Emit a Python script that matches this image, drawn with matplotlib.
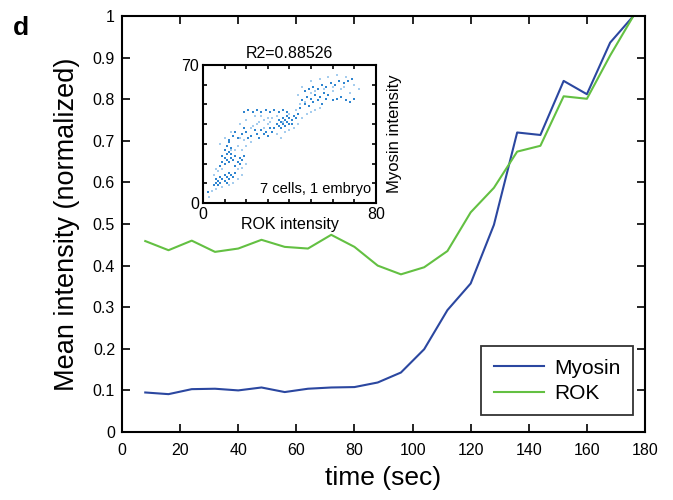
import matplotlib
matplotlib.use("Agg")
import matplotlib.pyplot as plt

plt.rcParams['font.family'] = ['Liberation Sans', 'DejaVu Sans']

# main curves
time_sec = [8, 16, 24, 32, 40, 48, 56, 64, 72, 80, 88, 96, 104, 112, 120, 128, 136, 144, 152, 160, 168, 176]
myosin = [0.095, 0.091, 0.103, 0.104, 0.100, 0.107, 0.096, 0.104, 0.107, 0.108, 0.119, 0.143, 0.199, 0.293,
          0.357, 0.498, 0.720, 0.714, 0.844, 0.812, 0.936, 1.0]
rok = [0.459, 0.437, 0.460, 0.433, 0.441, 0.462, 0.445, 0.441, 0.474, 0.445, 0.400, 0.379, 0.396, 0.435,
       0.528, 0.587, 0.674, 0.688, 0.807, 0.801, 0.905, 1.0]

# inset scatter (ROK intensity vs Myosin intensity), read by eye
rok_dark = [2.5, 5, 6, 7, 8, 9, 10, 11, 12, 13, 14, 15, 6, 8, 10, 12, 7, 11,
            8, 9, 10, 11, 12, 13, 14, 15, 16, 17, 18, 19, 9, 11, 13, 15, 17, 10,
            10, 11, 12, 13, 12,
            12, 14, 16, 18, 20, 22, 24, 15, 19, 21,
            33, 34, 35, 36, 37, 38, 39, 40, 41, 42, 43, 44, 35, 37, 39, 41, 36, 38, 40,
            19, 21, 23, 25, 27, 29, 31, 33, 35, 37, 39,
            26, 28, 30, 32, 27, 29, 31, 25,
            45, 47, 49, 51, 53, 55, 57, 46, 48, 50, 52, 54, 56, 58, 60, 62, 64, 66, 68, 70,
            47, 49, 51, 53, 55, 57, 59, 61, 63, 65, 67, 69]
myo_dark = [5.7, 9, 10, 11, 10, 12, 11, 13, 12, 14, 13, 15, 12, 13, 14, 15, 9, 10,
            19, 21, 20, 22, 21, 23, 22, 24, 21, 23, 22, 24, 24, 25, 25, 19, 20, 23,
            27, 29, 31, 28, 26,
            32, 34, 33, 35, 36, 34, 37, 36, 38, 33,
            38, 40, 39, 41, 40, 42, 41, 43, 42, 44, 43, 45, 42, 43, 44, 40, 38, 39, 40,
            46, 47, 46, 47, 46, 47, 46, 47, 46, 47, 46,
            33, 35, 34, 36, 37, 36, 38, 35,
            48, 50, 49, 51, 52, 50, 53, 52, 54, 53, 55, 54, 56, 55, 52, 53, 54, 52, 51, 53,
            57, 58, 59, 58, 60, 59, 61, 60, 62, 61, 62, 63]
rok_light = [3, 4, 6, 9, 12, 14, 16, 18, 5, 7, 16, 18, 20, 8, 10, 13, 16, 18, 20, 22, 23, 26, 28, 30, 32,
             34, 36, 38, 40, 42, 44, 46, 48, 50, 52, 54, 44, 46, 50, 54, 58, 62, 66, 70, 72, 60, 64, 68,
             24, 20, 17,
             6, 9, 13, 15, 17, 19, 22, 25, 28, 31, 34, 37, 40, 43, 47, 52, 56, 60, 65, 58, 50, 45, 30, 27]
myo_light = [3, 6, 7, 8, 9, 10, 12, 14, 14, 16, 17, 18, 20, 30, 33, 36, 29, 27, 29, 31, 39, 41, 42, 40, 43,
             35, 33, 36, 37, 38, 40, 43, 45, 46, 47, 48, 55, 59, 62, 63, 64, 65, 64, 60, 58, 57, 58, 56,
             44, 42, 40,
             17, 17, 27, 27, 33, 32, 38, 40, 38, 41, 44, 41, 45, 47, 51, 57, 58, 59, 59, 55, 56, 50, 43, 44]

fig = plt.figure(figsize=(6.73, 5.0), dpi=100)
ax = fig.add_axes([0.1813, 0.136, 0.7771, 0.832])

ax.plot(time_sec, myosin, color='#2b47a0', lw=1.5, label='Myosin')
ax.plot(time_sec, rok, color='#63c042', lw=1.5, label='ROK')

ax.set_xlim(0, 180)
ax.set_ylim(0, 1)
ax.set_xticks(range(0, 181, 20))
ax.set_yticks([0, 0.1, 0.2, 0.3, 0.4, 0.5, 0.6, 0.7, 0.8, 0.9, 1])
ax.set_yticklabels(['0', '0.1', '0.2', '0.3', '0.4', '0.5', '0.6', '0.7', '0.8', '0.9', '1'])
ax.tick_params(direction='in', length=6, width=1.2, top=True, right=True, labelsize=11.5, pad=5)
ax.tick_params(axis='x', pad=8)
for s in ax.spines.values():
    s.set_linewidth(1.5)
ax.set_xlabel('time (sec)', fontsize=19, labelpad=6)
ax.set_ylabel('Mean intensity (normalized)', fontsize=19.5, labelpad=9)

leg = ax.legend(loc='lower right', bbox_to_anchor=(0.977, 0.04), fontsize=15, frameon=True,
                fancybox=False, edgecolor='black', handlelength=2.4, handletextpad=0.5,
                borderpad=0.6, labelspacing=0.3, borderaxespad=0)
leg.get_frame().set_linewidth(1.3)

fig.text(0.019, 0.93, 'd', fontsize=19, fontweight='bold', va='baseline')

# inset
ins = fig.add_axes([0.3016, 0.594, 0.2571, 0.276])
ins.scatter(rok_light, myo_light, s=3, marker='s', color='#a6cdee', linewidths=0)
ins.scatter(rok_dark, myo_dark, s=3, marker='s', color='#2f85d0', linewidths=0)
ins.set_xlim(0, 80)
ins.set_ylim(0, 70)
ins.set_xticks(range(0, 81, 10))
ins.set_yticks(range(0, 71, 10))
ins.set_xticklabels(['0', '', '', '', '', '', '', '', '80'])
ins.set_yticklabels(['0', '', '', '', '', '', '', '70'])
ins.tick_params(direction='in', length=3, width=1.2, top=True, right=True, labelsize=11.5, pad=3)
for s in ins.spines.values():
    s.set_linewidth(1.5)
ins.set_title('R2=0.88526', fontsize=11.5, pad=5)
ins.text(0.5, -0.155, 'ROK intensity', transform=ins.transAxes, ha='center', va='center', fontsize=11.5)
ins.yaxis.set_label_position('right')
ins.set_ylabel('Myosin intensity', fontsize=12, rotation=90, labelpad=8)
ins.text(0.97, 0.1, '7 cells, 1 embryo', transform=ins.transAxes, ha='right', va='center', fontsize=10.5)

fig.savefig('out.png', dpi=100)
